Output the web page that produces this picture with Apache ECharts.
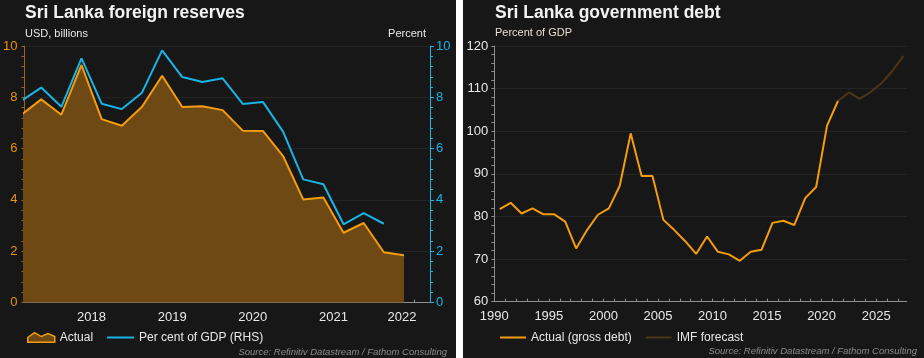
<!DOCTYPE html>
<html>
<head>
<meta charset="utf-8">
<script src="https://cdn.jsdelivr.net/npm/echarts@6/dist/echarts.min.js"></script>
<style>
html,body{margin:0;padding:0;background:#ffffff;}
#c{width:924px;height:358px;}
</style>
</head>
<body>
<div id="c"></div>
<script>
// ---------- Left chart data: Sri Lanka foreign reserves (quarterly) ----------
const quarters = ['2017 Q1','2017 Q2','2017 Q3','2017 Q4','2018 Q1','2018 Q2','2018 Q3','2018 Q4',
  '2019 Q1','2019 Q2','2019 Q3','2019 Q4','2020 Q1','2020 Q2','2020 Q3','2020 Q4',
  '2021 Q1','2021 Q2','2021 Q3','2021 Q4'];
const reservesUSD = [7.31,7.92,7.32,9.26,7.15,6.89,7.63,8.84,7.62,7.65,7.50,6.70,6.69,5.71,4.02,4.09,2.72,3.10,1.96,1.84];
const reservesPctGDP = [7.85,8.38,7.63,9.52,7.75,7.54,8.18,9.83,8.79,8.60,8.74,7.74,7.82,6.66,4.80,4.61,3.05,3.48,3.07];
const reservesYearLabels = ['2018','2019','2020','2021','2022'];

// ---------- Right chart data: Sri Lanka government debt (% of GDP) ----------
const debtYears = [1990,1991,1992,1993,1994,1995,1996,1997,1998,1999,2000,2001,2002,2003,2004,2005,
  2006,2007,2008,2009,2010,2011,2012,2013,2014,2015,2016,2017,2018,2019,2020,2021];
const debtActual = [81.7,83.2,80.7,81.9,80.5,80.5,78.8,72.5,76.8,80.4,81.9,87.2,99.5,89.5,89.5,79.2,
  76.8,74.2,71.2,75.3,71.7,71.1,69.6,71.7,72.2,78.5,79.0,78.0,84.3,86.9,101.3,107.1];
const forecastYears = [2021,2022,2023,2024,2025,2026,2027];
const debtForecast = [107.1,109.1,107.6,109.2,111.3,114.2,117.7];
const debtTickLabels = ['1990','1995','2000','2005','2010','2015','2020','2025'];

// ---------- build ----------
const FONT = 'Liberation Sans, Arial, sans-serif';
const BG = '#171717';
const ORANGE = '#F39C0E';
const FILL = '#6F4913';
const BLUE = '#17B4E5';
const FORE = '#4E3614';
const TXT = '#E8E8E8';

// quarter positions: axis unit = one quarter, 0 = start of 2017; points mid-quarter
const resUSDPts = reservesUSD.map((v,i)=>[i+0.5, v]);
const resPctPts = reservesPctGDP.map((v,i)=>[i+0.5, v]);
const yearLabelPos = reservesYearLabels.map((y,i)=> {
  const p = (Number(y)-2017)*4;
  return i === reservesYearLabels.length-1 ? p-0.6 : p;
});
const quarterTicks = quarters.map((q,i)=>i+1);

const debtPts = debtYears.map((y,i)=>[y+0.5, debtActual[i]]);
const forePts = forecastYears.map((y,i)=>[y+0.5, debtForecast[i]]);
const yearTicks = [];
for (let y = 1990; y <= 2027; y++) yearTicks.push(y);
const debtLabelVals = debtTickLabels.map(Number);

const chart = echarts.init(document.getElementById('c'), null, {renderer:'canvas'});

const gridLine = {show:true, lineStyle:{color:'#242424', width:1}};
const noSym = {opacity:0};

const option = {
  backgroundColor: '#ffffff',
  animation: false,
  textStyle: {fontFamily: FONT},
  graphic: [
    {type:'rect', z:-10, shape:{x:0,y:0,width:456,height:358}, style:{fill:BG}},
    {type:'rect', z:-10, shape:{x:463,y:0,width:461,height:358}, style:{fill:BG}},
    {type:'text', left:25, top:4.5, style:{text:'Sri Lanka foreign reserves', fill:'#F2F2F2', font:'bold 17.5px '+FONT}},
    {type:'text', left:25, top:28.5, style:{text:'USD, billions', fill:TXT, font:'11px '+FONT}},
    {type:'text', right:924-426, top:28.5, style:{text:'Percent', fill:TXT, font:'11px '+FONT}},
    {type:'text', left:495, top:4.5, style:{text:'Sri Lanka government debt', fill:'#F2F2F2', font:'bold 17.5px '+FONT}},
    {type:'text', left:495, top:27.5, style:{text:'Percent of GDP', fill:'#E6DFD2', font:'11px '+FONT}},
    {type:'text', right:924-447, top:347, style:{text:'Source: Refinitiv Datastream / Fathom Consulting', fill:'#8C8C8C', font:'italic 9.5px '+FONT}},
    {type:'text', right:924-917, top:346, style:{text:'Source: Refinitiv Datastream / Fathom Consulting', fill:'#8C8C8C', font:'italic 9.5px '+FONT}}
  ],
  legend: [
    {
      left: 27, top: 331.5, padding: 0, itemWidth: 27, itemHeight: 12, itemGap: 13,
      textStyle: {color: TXT, fontSize: 12, fontFamily: FONT},
      data: [
        {name:'Actual', icon:'path://M0,7 L7,2 L14,6 L21,3 L28,6 L28,12 L0,12 Z',
          itemStyle:{color:FILL, borderColor:ORANGE, borderWidth:1.5}},
        {name:'Per cent of GDP (RHS)', itemStyle:noSym}
      ]
    },
    {
      left: 499, top: 331.5, padding: 0, itemWidth: 26, itemHeight: 12, itemGap: 13,
      textStyle: {color: TXT, fontSize: 12, fontFamily: FONT},
      data: [
        {name:'Actual (gross debt)', itemStyle:noSym},
        {name:'IMF forecast', itemStyle:noSym}
      ]
    }
  ],
  grid: [
    {left:24, right:924-430, top:46, bottom:358-302.5, containLabel:false},
    {left:494.3, right:924-906.7, top:46, bottom:358-301.7, containLabel:false}
  ],
  xAxis: [
    {
      type:'value', gridIndex:0, min:0.67, max:20.79,
      axisLine:{show:true, lineStyle:{color:'#8F8F8F', width:1}},
      axisTick:{show:true, inside:true, length:3, customValues:quarterTicks, lineStyle:{color:'#8F8F8F'}},
      axisLabel:{show:true, customValues:yearLabelPos, margin:8, color:TXT, fontSize:13, fontFamily:FONT,
        formatter:(v)=>{ const i = yearLabelPos.findIndex(p=>Math.abs(p-v)<1e-6); return i>=0 ? reservesYearLabels[i] : ''; }},
      splitLine:{show:false}
    },
    {
      type:'value', gridIndex:1, min:1990, max:2027.8,
      axisLine:{show:true, lineStyle:{color:'#8F8F8F', width:1}},
      axisTick:{show:true, inside:true, length:3, customValues:yearTicks, lineStyle:{color:'#8F8F8F'}},
      axisLabel:{show:true, customValues:debtLabelVals, margin:8, color:TXT, fontSize:13, fontFamily:FONT,
        formatter:(v)=>String(Math.round(v))},
      splitLine:{show:false}
    }
  ],
  yAxis: [
    {
      type:'value', gridIndex:0, position:'left', min:0, max:10, interval:2,
      axisLine:{show:true, lineStyle:{color:'#9C6510', width:1}},
      axisTick:{show:true, length:3, lineStyle:{color:'#9C6510'}},
      minorTick:{show:true, splitNumber:5, length:3, lineStyle:{color:'#9C6510'}},
      axisLabel:{color:'#E8920E', fontSize:13, margin:7, fontFamily:FONT},
      splitLine:gridLine
    },
    {
      type:'value', gridIndex:0, position:'right', min:0, max:10, interval:2,
      axisLine:{show:true, lineStyle:{color:BLUE, width:1}},
      axisTick:{show:true, length:4, lineStyle:{color:BLUE}},
      minorTick:{show:true, splitNumber:5, length:3, lineStyle:{color:BLUE}},
      axisLabel:{color:BLUE, fontSize:13, margin:6, fontFamily:FONT},
      splitLine:{show:false}
    },
    {
      type:'value', gridIndex:1, min:60, max:120, interval:10,
      axisLine:{show:true, lineStyle:{color:'#8F8F8F', width:1}},
      axisTick:{show:true, length:3, lineStyle:{color:'#8F8F8F'}},
      minorTick:{show:true, splitNumber:5, length:3, lineStyle:{color:'#8F8F8F'}},
      axisLabel:{color:TXT, fontSize:13, margin:6, fontFamily:FONT},
      splitLine:gridLine
    }
  ],
  series: [
    {
      name:'Actual', type:'line', xAxisIndex:0, yAxisIndex:0, data:resUSDPts,
      symbol:'none', clip:true, z:2,
      lineStyle:{color:ORANGE, width:2},
      itemStyle:{color:FILL},
      areaStyle:{color:FILL, opacity:1}
    },
    {
      name:'Per cent of GDP (RHS)', type:'line', xAxisIndex:0, yAxisIndex:1, data:resPctPts,
      symbol:'none', clip:true, z:3,
      lineStyle:{color:BLUE, width:2}, itemStyle:{color:BLUE}
    },
    {
      name:'Actual (gross debt)', type:'line', xAxisIndex:1, yAxisIndex:2, data:debtPts,
      symbol:'none', z:3,
      lineStyle:{color:ORANGE, width:2}, itemStyle:{color:ORANGE}
    },
    {
      name:'IMF forecast', type:'line', xAxisIndex:1, yAxisIndex:2, data:forePts,
      symbol:'none', z:2,
      lineStyle:{color:FORE, width:2}, itemStyle:{color:FORE}
    }
  ]
};
chart.setOption(option);
</script>
</body>
</html>
